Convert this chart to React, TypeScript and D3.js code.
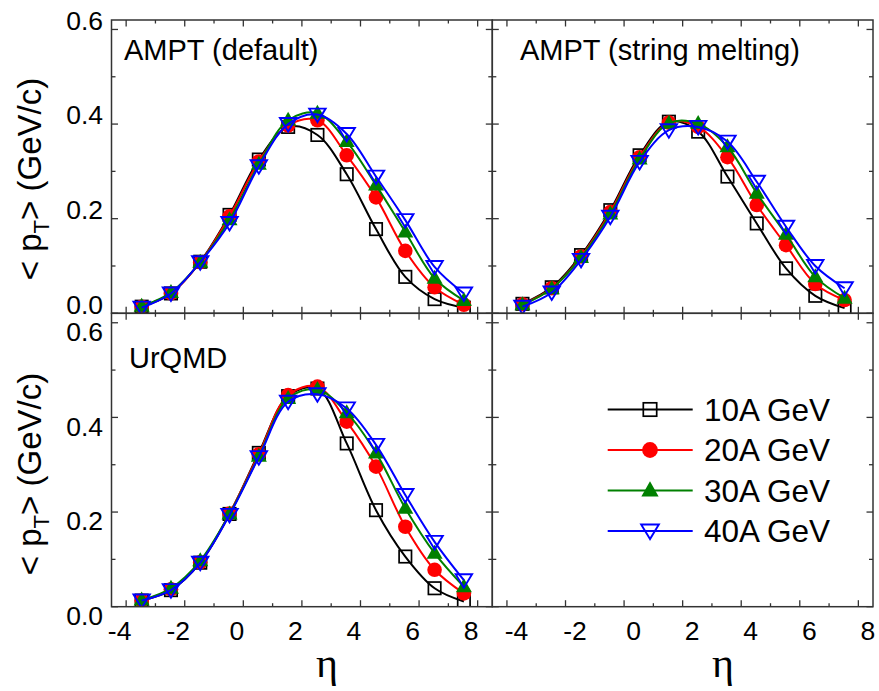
import React from 'react';
import * as d3 from 'd3';

const ETA = [-3.47, -2.47, -1.47, -0.47, 0.53, 1.53, 2.53, 3.53, 4.53, 5.53, 6.53, 7.53];

const AMPT_DEF_10 = [0.014, 0.042, 0.109, 0.208, 0.325, 0.394, 0.377, 0.294, 0.178, 0.077, 0.030, 0.012];
const AMPT_DEF_20 = [0.014, 0.042, 0.108, 0.205, 0.321, 0.397, 0.408, 0.334, 0.245, 0.132, 0.055, 0.018];
const AMPT_DEF_30 = [0.015, 0.044, 0.108, 0.198, 0.315, 0.408, 0.423, 0.363, 0.271, 0.172, 0.074, 0.027];
const AMPT_DEF_40 = [0.012, 0.042, 0.108, 0.191, 0.311, 0.400, 0.420, 0.379, 0.289, 0.197, 0.098, 0.042];

const AMPT_SM_10 = [0.020, 0.055, 0.123, 0.218, 0.334, 0.405, 0.384, 0.289, 0.190, 0.095, 0.037, 0.011];
const AMPT_SM_20 = [0.019, 0.053, 0.120, 0.214, 0.330, 0.403, 0.394, 0.330, 0.229, 0.144, 0.062, 0.028];
const AMPT_SM_30 = [0.018, 0.052, 0.118, 0.210, 0.326, 0.402, 0.401, 0.352, 0.254, 0.167, 0.077, 0.032];
const AMPT_SM_40 = [0.014, 0.044, 0.113, 0.204, 0.320, 0.387, 0.394, 0.363, 0.278, 0.183, 0.100, 0.053];

const URQMD_10 = [0.013, 0.035, 0.093, 0.196, 0.325, 0.445, 0.461, 0.345, 0.204, 0.106, 0.039, 0.011];
const URQMD_20 = [0.013, 0.037, 0.094, 0.197, 0.322, 0.447, 0.465, 0.391, 0.296, 0.169, 0.078, 0.028];
const URQMD_30 = [0.014, 0.039, 0.097, 0.196, 0.318, 0.440, 0.459, 0.410, 0.325, 0.208, 0.113, 0.042];
const URQMD_40 = [0.013, 0.035, 0.093, 0.194, 0.316, 0.433, 0.449, 0.419, 0.342, 0.236, 0.137, 0.056];

const SERIES_LABELS = ['10A GeV', '20A GeV', '30A GeV', '40A GeV'];
const SERIES_COLORS = ['#000000', '#ff0000', '#008000', '#0000ff'];
const SERIES_MARKERS = ['square', 'circle', 'triangle', 'itriangle'];
const PANEL_TITLES = ['AMPT (default)', 'AMPT (string melting)', 'UrQMD', ''];

const X_TICKS = [-4, -2, 0, 2, 4, 6, 8];
const X_MINOR = [-3, -1, 1, 3, 5, 7];
const Y_TICKS = [0, 0.2, 0.4, 0.6];
const Y_MINOR = [0.1, 0.3, 0.5];
const X_DOMAIN = [-4.5, 8.5];
const Y_DOMAIN = [0, 0.62];

const FONT = '"Liberation Sans", Arial, sans-serif';
const FRAME = '#333';

function Marker({ type, x, y, color, s = 1 }) {
  if (type === 'square') {
    const h = 6.2 * s;
    return <rect x={x - h} y={y - h} width={2 * h} height={2 * h} fill="none" stroke={color} strokeWidth={1.7} />;
  }
  if (type === 'circle') {
    return <circle cx={x} cy={y} r={7.3 * s} fill={color} />;
  }
  if (type === 'triangle') {
    return <path d={`M${x},${y - 8.5 * s}L${x + 8 * s},${y + 5.5 * s}L${x - 8 * s},${y + 5.5 * s}Z`} fill={color} />;
  }
  return <path d={`M${x},${y + 7.5 * s}L${x - 8.2 * s},${y - 6 * s}L${x + 8.2 * s},${y - 6 * s}Z`} fill="none" stroke={color} strokeWidth={1.9} />;
}

function Panel({ x0, x1, y0, y1, title, series, yLabels, yLabelShift, xLabels, xLabelShift, titleX, titleY }) {
  const x = d3.scaleLinear().domain(X_DOMAIN).range([x0, x1]);
  const y = d3.scaleLinear().domain(Y_DOMAIN).range([y1, y0]);
  const line = d3.line().x((d) => x(d[0])).y((d) => y(d[1])).curve(d3.curveCatmullRom.alpha(0.5));
  const clipId = `clip-${Math.round(x0)}-${Math.round(y0)}`;
  const ticks = [];
  const addX = (v, len) => {
    ticks.push(<line key={`xb${v}`} x1={x(v)} x2={x(v)} y1={y1} y2={y1 - len} stroke={FRAME} strokeWidth={1.3} />);
    ticks.push(<line key={`xt${v}`} x1={x(v)} x2={x(v)} y1={y0} y2={y0 + len} stroke={FRAME} strokeWidth={1.3} />);
  };
  const addY = (v, len) => {
    ticks.push(<line key={`yl${v}`} x1={x0} x2={x0 + len} y1={y(v)} y2={y(v)} stroke={FRAME} strokeWidth={1.3} />);
    ticks.push(<line key={`yr${v}`} x1={x1} x2={x1 - len} y1={y(v)} y2={y(v)} stroke={FRAME} strokeWidth={1.3} />);
  };
  X_TICKS.forEach((v) => addX(v, 6.5));
  X_MINOR.forEach((v) => addX(v, 3.5));
  Y_TICKS.forEach((v) => addY(v, 6.5));
  Y_MINOR.forEach((v) => addY(v, 4));
  return (
    <g>
      <defs>
        <clipPath id={clipId}>
          <rect x={x0} y={y0} width={x1 - x0} height={y1 - y0} />
        </clipPath>
      </defs>
      <g clipPath={`url(#${clipId})`}>
        {series.map((vals, si) => (
          <g key={si}>
            <path d={line(ETA.map((e, i) => [e, vals[i]]))} fill="none" stroke={SERIES_COLORS[si]} strokeWidth={2} />
            {ETA.map((e, i) => (
              <Marker key={i} type={SERIES_MARKERS[si]} x={x(e)} y={y(vals[i])} color={SERIES_COLORS[si]} />
            ))}
          </g>
        ))}
      </g>
      <rect x={x0} y={y0} width={x1 - x0} height={y1 - y0} fill="none" stroke={FRAME} strokeWidth={1.5} />
      {ticks}
      {yLabels &&
        Y_TICKS.map((v) => (
          <text key={`yl${v}`} x={103} y={y(v) + yLabelShift} textAnchor="end" fontFamily={FONT} fontSize={26.5} fill="#000">
            {v.toFixed(1)}
          </text>
        ))}
      {xLabels &&
        X_TICKS.map((v) => (
          <text key={`xl${v}`} x={x(v) + xLabelShift} y={640} textAnchor="middle" fontFamily={FONT} fontSize={26.5} fill="#000">
            {String(v)}
          </text>
        ))}
      {title && (
        <text x={titleX} y={titleY} fontFamily={FONT} fontSize={29} fill="#000">
          {title}
        </text>
      )}
    </g>
  );
}

export default function App() {
  const XL = [111.5, 492.3];
  const XR = [492.3, 873];
  const YT = [20, 313.3];
  const YB = [313.3, 606.7];
  return (
    <svg width={879} height={691} style={{ position: 'absolute', left: 0, top: 0, background: '#fff' }}>
      <rect x={0} y={0} width={879} height={691} fill="#fff" />
      <Panel x0={XL[0]} x1={XL[1]} y0={YT[0]} y1={YT[1]} title={PANEL_TITLES[0]} titleX={124} titleY={60}
        series={[AMPT_DEF_10, AMPT_DEF_20, AMPT_DEF_30, AMPT_DEF_40]} yLabels yLabelShift={0.3} xLabels={false} xLabelShift={0} />
      <Panel x0={XR[0]} x1={XR[1]} y0={YT[0]} y1={YT[1]} title={PANEL_TITLES[1]} titleX={520} titleY={60}
        series={[AMPT_SM_10, AMPT_SM_20, AMPT_SM_30, AMPT_SM_40]} yLabels={false} yLabelShift={0} xLabels={false} xLabelShift={0} />
      <Panel x0={XL[0]} x1={XL[1]} y0={YB[0]} y1={YB[1]} title={PANEL_TITLES[2]} titleX={129} titleY={368}
        series={[URQMD_10, URQMD_20, URQMD_30, URQMD_40]} yLabels yLabelShift={18.3} xLabels xLabelShift={-6.5} />
      <Panel x0={XR[0]} x1={XR[1]} y0={YB[0]} y1={YB[1]} title={PANEL_TITLES[3]} titleX={0} titleY={0}
        series={[]} yLabels={false} yLabelShift={0} xLabels xLabelShift={9.5} />

      {SERIES_LABELS.map((lab, i) => {
        const ly = 409.5 + i * 40.5;
        return (
          <g key={lab}>
            <line x1={607.7} x2={692.7} y1={ly} y2={ly} stroke={SERIES_COLORS[i]} strokeWidth={2} />
            <Marker type={SERIES_MARKERS[i]} x={650} y={ly} color={SERIES_COLORS[i]} s={1.08} />
            <text x={704} y={ly + 11} fontFamily={FONT} fontSize={31.5} fill="#000">{lab}</text>
          </g>
        );
      })}

      {[179, 474].map((cy) => (
        <text key={cy} transform={`translate(41,${cy}) rotate(-90)`} textAnchor="middle" fontFamily={FONT} fontSize={33} fill="#000">
          {'< p'}
          <tspan dy={8} fontSize={22}>T</tspan>
          <tspan dy={-8}>{'> (GeV/c)'}</tspan>
        </text>
      ))}

      {[327, 723].map((cx) => (
        <text key={cx} x={cx} y={677} textAnchor="middle" fontFamily='"Liberation Serif", "Times New Roman", serif' fontSize={42} fill="#000">
          η
        </text>
      ))}
    </svg>
  );
}
